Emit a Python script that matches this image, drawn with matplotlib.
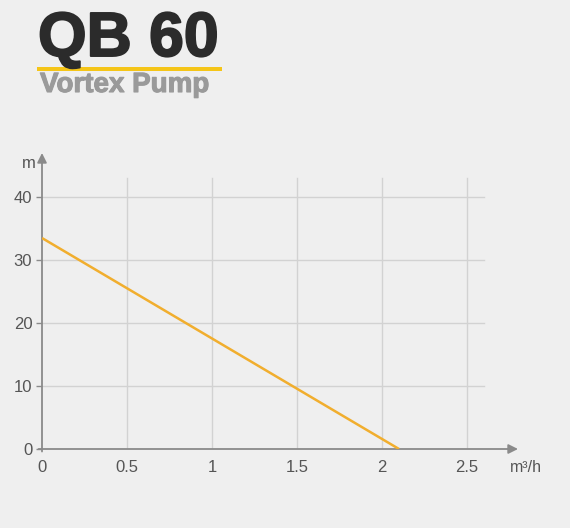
import matplotlib
matplotlib.use('Agg')
import matplotlib.pyplot as plt
import matplotlib.patheffects as pe
from matplotlib.patches import Rectangle

# pump curve: flow (m3/h) vs head (m)
flow = [0, 2.1]
head = [33.5, 0]
x_ticks = [0, 0.5, 1, 1.5, 2, 2.5]
x_tick_labels = ['0', '0.5', '1', '1.5', '2', '2.5']
y_ticks = [0, 10, 20, 30, 40]
title = 'QB 60'
subtitle = 'Vortex Pump'

bg = '#efefef'
axis_col = '#8a8a8a'
grid_col = '#d2d2d2'
text_col = '#555555'

plt.rcParams['font.family'] = ['Liberation Sans', 'DejaVu Sans']

fig = plt.figure(figsize=(5.7, 5.28), dpi=100, facecolor=bg)
ax = fig.add_axes([42/570, 79/528, 476/570, 296/528])
ax.set_facecolor(bg)
ax.set_xlim(0, 2.8)
ax.set_ylim(0, 47)

for s in ax.spines.values():
	s.set_visible(False)

# grid
for yv in y_ticks[1:]:
	ax.plot([0, 2.6], [yv, yv], color=grid_col, linewidth=1, zorder=1)
for xv in x_ticks[1:]:
	ax.plot([xv, xv], [0, 43], color=grid_col, linewidth=1, zorder=1)

# axes with arrows
ax.annotate('', xy=(2.8, 0), xytext=(-0.02, 0), annotation_clip=False,
	arrowprops=dict(arrowstyle='-|>', color=axis_col, lw=1.3, mutation_scale=14, shrinkA=0, shrinkB=0))
ax.annotate('', xy=(0, 47), xytext=(0, -0.4), annotation_clip=False,
	arrowprops=dict(arrowstyle='-|>', color=axis_col, lw=1.3, mutation_scale=14, shrinkA=0, shrinkB=0))

ax.plot(flow, head, color='#f1ae2e', linewidth=1.8, zorder=3, solid_capstyle='butt')

ax.set_xticks(x_ticks)
ax.set_xticklabels(x_tick_labels)
ax.set_yticks(y_ticks)
ax.tick_params(axis='both', colors=axis_col, labelcolor=text_col, labelsize=12, length=4, width=1, pad=3)
ax.tick_params(axis='x', length=0, pad=8)

ax.text(-0.076, 45.3, 'm', ha='center', va='center', fontsize=12, color=text_col)
ax.text(2.75, -3, 'm³/h', ha='left', va='center', fontsize=11.5, color=text_col)

# header
fig.text(38/570, 1 - 56/528, title, fontsize=45, fontweight='bold', color='#2b2b2b', ha='left', va='baseline',
	path_effects=[pe.withStroke(linewidth=1.4, foreground='#2b2b2b')])
fig.patches.append(Rectangle((37/570, 1 - 71/528), 185/570, 4/528, transform=fig.transFigure,
	facecolor='#f5c518', edgecolor='none'))
fig.text(40/570, 1 - 92/528, subtitle, fontsize=20, fontweight='bold', color='#9a9a9a', ha='left', va='baseline',
	path_effects=[pe.withStroke(linewidth=0.8, foreground='#9a9a9a')])

fig.savefig('out.png', dpi=100, facecolor=bg)
